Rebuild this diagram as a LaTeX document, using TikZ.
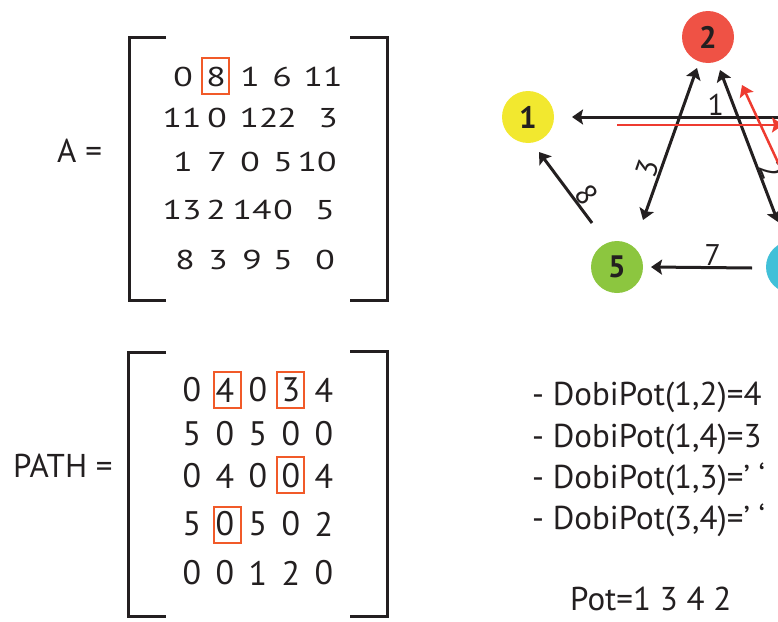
\documentclass[tikz,border=0pt]{standalone}
\usepackage{graphicx}
\usepackage{fontspec}
\setmainfont{PT Sans}
\usetikzlibrary{arrows.meta,calc}

\definecolor{ink}{HTML}{231F20}
\definecolor{nodered}{HTML}{EF5245}
\definecolor{nodeyellow}{HTML}{F2E82F}
\definecolor{nodegreen}{HTML}{8CC63F}
\definecolor{nodecyan}{HTML}{41C0D8}
\definecolor{pathred}{HTML}{EE3B30}
\definecolor{boxorange}{HTML}{F15A29}

\tikzset{
  tip/.tip={Stealth[length=11pt,width=15pt,inset=2pt]},
  vertex/.style={circle, minimum size=52pt, inner sep=0pt, text=ink,
    font=\fontsize{31}{31}\selectfont\bfseries},
  edge/.style={line width=3pt, draw=ink, -tip},
  biedge/.style={line width=3pt, draw=ink, tip-tip},
  redge/.style={line width=2.5pt, draw=pathred, -tip},
  wlabel/.style={font=\fontsize{30}{30}\selectfont, text=ink, inner sep=0.5pt, sloped, above},
  entry/.style={font=\fontsize{34}{34}\selectfont, text=ink, inner sep=0pt},
  txt/.style={font=\fontsize{33}{33}\selectfont, text=ink, inner sep=0pt, anchor=base west},
  pick/.style={draw=boxorange, line width=2pt, minimum width=27pt, minimum height=36pt, inner sep=0pt},
  bracket/.style={line width=3pt, draw=ink}
}
\newcommand{\sq}[1]{\scalebox{1.05}[0.8]{#1}}

\begin{document}
\begin{tikzpicture}[x=1pt,y=-1pt]
\useasboundingbox (0,0) rectangle (778,621);
\clip (0,0) rectangle (778,621);

% ---------- matrix A ----------
\node[txt] (lblA) at (57,162) {A =};
\draw[bracket] (166,37) -- (129,37) -- (129,300) -- (166,300);
\draw[bracket] (350,37) -- (387,37) -- (387,300) -- (350,300);
\foreach \xx/\v [count=\c] in {183/0,216/8,250/1,282/6,323/11}
  \node[entry] (a1\c) at (\xx,77) {\sq{\v}};
\foreach \xx/\v [count=\c] in {182/11,217/0,259/12,287/2,328/3}
  \node[entry] (a2\c) at (\xx,118) {\sq{\v}};
\foreach \xx/\v [count=\c] in {183/1,217/7,250/0,283/5,317/10}
  \node[entry] (a3\c) at (\xx,162) {\sq{\v}};
\foreach \xx/\v [count=\c] in {182/13,216/2,252/14,283/0,325/5}
  \node[entry] (a4\c) at (\xx,210) {\sq{\v}};
\foreach \xx/\v [count=\c] in {185/8,218/3,252/9,283/5,325/0}
  \node[entry] (a5\c) at (\xx,260) {\sq{\v}};
\node[pick] (pickA) at (215.5,76) {};

% ---------- matrix PATH ----------
\node[txt] (lblP) at (13,477) {PATH =};
\draw[bracket] (166,352) -- (128,352) -- (128,616) -- (166,616);
\draw[bracket] (350,351) -- (387,351) -- (387,616) -- (350,616);
\foreach \v [count=\c, evaluate=\c as \xx using {159+33*\c}] in {0,4,0,3,4}
  \node[entry] (p1\c) at (\xx,390) {\v};
\foreach \v [count=\c, evaluate=\c as \xx using {159+33*\c}] in {5,0,5,0,0}
  \node[entry] (p2\c) at (\xx,434) {\v};
\foreach \v [count=\c, evaluate=\c as \xx using {159+33*\c}] in {0,4,0,0,4}
  \node[entry] (p3\c) at (\xx,476) {\v};
\foreach \v [count=\c, evaluate=\c as \xx using {159+33*\c}] in {5,0,5,0,2}
  \node[entry] (p4\c) at (\xx,524) {\v};
\foreach \v [count=\c, evaluate=\c as \xx using {159+33*\c}] in {0,0,1,2,0}
  \node[entry] (p5\c) at (\xx,573) {\v};
\node[pick] (pickP1) at (227.5,389.5) {};
\node[pick] (pickP2) at (290,389.5) {};
\node[pick] (pickP3) at (290,475) {};
\node[pick] (pickP4) at (227.5,525) {};

% ---------- graph ----------
\node[vertex, fill=nodeyellow] (n1) at (528,117) {1};
\node[vertex, fill=nodered]    (n2) at (708,37)  {2};
\node[vertex, fill=nodecyan]   (n3) at (852,117) {3};
\node[vertex, fill=nodecyan]   (n4) at (792,267) {4};
\node[vertex, fill=nodegreen]  (n5) at (617,267) {5};

\draw[edge] ($(n3)+(-48,0)$) -- node[wlabel, pos=0.38] (w31) {1} ($(n1)+(44,0)$);
\draw[edge] ($(n4)+(-40,1)$) -- node[wlabel, pos=0.39] (w45) {7} ($(n5)+(34,0)$);
\draw[biedge] ($(n5)+(26,-47)$) -- node[wlabel, pos=0.31] (w52) {3} ($(n2)+(-11,31)$);
\draw[biedge] ($(n2)+(12,33)$) -- node[wlabel, pos=0.69] (w24) {2} ($(n4)+(-14,-45)$);
\draw[edge] ($(n5)+(-25,-44)$) -- node[wlabel, pos=0.29] (w51) {8} ($(n1)+(11,35)$);

% highlighted route 1 -> 3 -> 4 -> 2
\draw[redge] ($(n1)+(89,8)$) -- ($(n3)+(-69,8)$);
\draw[redge] ($(n4)+(16,-40)$) -- ($(n2)+(34,48)$);

% ---------- text ----------
\node[txt] (t1) at (532,405) {- DobiPot(1,2)=4};
\node[txt] (t2) at (532,447) {- DobiPot(1,4)=3};
\node[txt] (t3) at (532,488) {- DobiPot(1,3)=’ ‘};
\node[txt] (t4) at (532,529) {- DobiPot(3,4)=’ ‘};
\node[txt] (t5) at (570,610) {Pot=1 3 4 2};
\end{tikzpicture}
\end{document}
